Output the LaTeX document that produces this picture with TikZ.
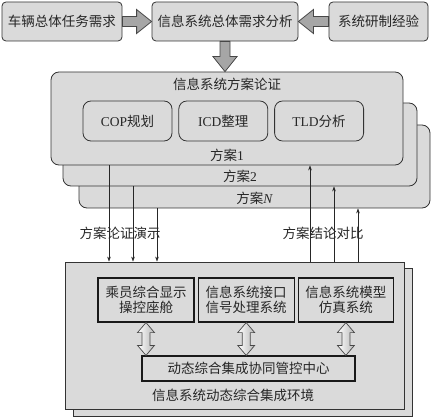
\documentclass[tikz,border=0pt]{standalone}
\usepackage{fontspec}
\setmainfont{Liberation Serif}
\newfontfamily\cjk{Noto Sans CJK SC}
\usetikzlibrary{arrows.meta,positioning,calc}
\definecolor{PlanGray}{HTML}{DADADA}
\definecolor{PlanEdge}{HTML}{333333}
\definecolor{PlanArrow}{HTML}{A6A6A6}

% hollow block arrows between two points
\newcommand{\fatarrow}[2]{%
  \draw[fat] let \p1=(#1), \p2=(#2),
    \n1={veclen(\x2-\x1,\y2-\y1)}, \n2={atan2(\y2-\y1,\x2-\x1)} in
    {[shift={(\p1)}, rotate=\n2]
    (0,-5) -- (\n1-15,-5) -- (\n1-15,-12) -- (\n1,0) -- (\n1-15,12) -- (\n1-15,5) -- (0,5) -- cycle};
}
\newcommand{\twinarrow}[2]{%
  \draw[twin] let \p1=(#1), \p2=(#2),
    \n1={veclen(\x2-\x1,\y2-\y1)}, \n2={atan2(\y2-\y1,\x2-\x1)} in
    {[shift={(\p1)}, rotate=\n2]
    (10,-4) -- (\n1-10,-4) -- (\n1-10,-8.5) -- (\n1,0) -- (\n1-10,8.5) -- (\n1-10,4)
    -- (10,4) -- (10,8.5) -- (0,0) -- (10,-8.5) -- cycle};
}

\begin{document}
\begin{tikzpicture}[
  x=1pt, y=-1pt,
  every node/.style={font=\cjk\fontsize{13.5}{15.5}\selectfont, inner sep=0pt, text=black!85},
  need/.style={draw=PlanEdge, fill=PlanGray, rounded corners=4pt, minimum height=39, line width=0.8pt},
  plan/.style={draw=PlanEdge, fill=PlanGray, rounded corners=8pt, line width=0.8pt},
  task/.style={draw=PlanEdge, fill=PlanGray, rounded corners=8pt, minimum width=89, minimum height=40, line width=0.8pt},
  envbox/.style={draw=PlanEdge, fill=PlanGray, minimum width=339, line width=0.9pt},
  unit/.style={draw=black!90, fill=PlanGray, line width=1.2pt, minimum width=96, minimum height=44, align=center},
  link/.style={-{Stealth[length=5pt,width=3.6pt]}, line width=0.5pt, draw=black!85},
  fat/.style={draw=PlanEdge!90, fill=PlanArrow, line width=0.8pt},
  twin/.style={draw=PlanEdge!90, left color=white, right color=PlanArrow!80, line width=0.7pt}
]
\useasboundingbox (0,0) rectangle (434,417);

% requirement row
\node[need, minimum width=120] (vehicle) at (62,21.5) {车辆总体任务需求};
\node[need, minimum width=146] (demand) at (225,21.5) {信息系统总体需求分析};
\node[need, minimum width=99] (experience) at (378.5,21.5) {系统研制经验};

% stacked schemes
\node[plan, minimum width=351, minimum height=83] (plan3) at (254.5,166.5) {};
\node[above=4pt of plan3.south] (lbl3) {方案{\rmfamily\itshape N}};
\node[plan, minimum width=354, minimum height=83] (plan2) at (240,144.5) {};
\node[above=4pt of plan2.south] (lbl2) {方案{\rmfamily 2}};
\node[plan, minimum width=352, minimum height=93] (plan1) at (227,118.5) {};
\node[above=4pt of plan1.south] (lbl1) {方案{\rmfamily 1}};
\node[below=6pt of plan1.north] (plantitle) {信息系统方案论证};
\node[task] (cop) at (127.5,121) {{\rmfamily COP}规划};
\node[task, right=6pt of cop] (icd) {{\rmfamily ICD}整理};
\node[task, right=6pt of icd] (tld) {{\rmfamily TLD}分析};

% integration environment
\node[envbox, minimum height=148] (envback) at (242.5,342) {};
\node[envbox, minimum height=147] (env) at (234.5,335.5) {};
\node[unit] (crew) at (146,300) {乘员综合显示\\操控座舱};
\node[unit, right=3pt of crew] (iface) {信息系统接口\\信号处理系统};
\node[unit, right=3pt of iface, minimum width=95] (model) {信息系统模型\\仿真系统};
\node[unit, minimum width=213, minimum height=25] (hub) at (248.5,368.5) {动态综合集成协同管控中心};
\node (envtitle) at (233,395) {信息系统动态综合集成环境};

% block arrows
\fatarrow{vehicle.east}{demand.west}
\fatarrow{experience.west}{demand.east}
\fatarrow{demand.south}{demand.south |- plan1.north}
\twinarrow{crew.south}{crew.south |- hub.north}
\twinarrow{iface.south}{iface.south |- hub.north}
\twinarrow{model.south}{model.south |- hub.north}

% demonstration and comparison links
\draw[link] ([xshift=-118]plan1.south) -- ([xshift=-118]plan1.south |- env.north);
\draw[link] ([xshift=-107]plan2.south) -- ([xshift=-107]plan2.south |- env.north);
\draw[link] ([xshift=-97.5]plan3.south) -- ([xshift=-97.5]plan3.south |- env.north);
\draw[link] ([xshift=83]plan1.south |- env.north) -- ([xshift=83]plan1.south);
\draw[link] ([xshift=94]plan2.south |- env.north) -- ([xshift=94]plan2.south);
\draw[link] ([xshift=103.5]plan3.south |- env.north) -- ([xshift=103.5]plan3.south);
\node (demo) at (120,233) {方案论证演示};
\node (compare) at (323,233) {方案结论对比};
\end{tikzpicture}
\end{document}
